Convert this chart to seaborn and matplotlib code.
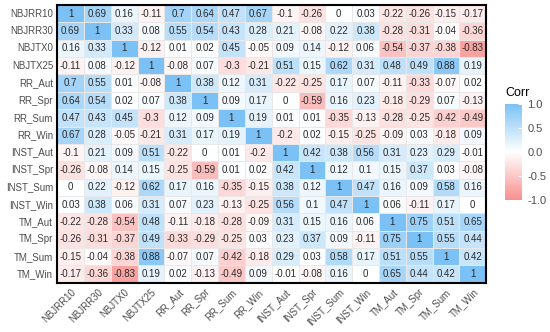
import numpy as np
import pandas as pd
import matplotlib.pyplot as plt
import seaborn as sns
from matplotlib.colors import LinearSegmentedColormap

labels = ["NBJRR10", "NBJRR30", "NBJTX0", "NBJTX25", "RR_Aut", "RR_Spr", "RR_Sum", "RR_Win",
          "INST_Aut", "INST_Spr", "INST_Sum", "INST_Win", "TM_Aut", "TM_Spr", "TM_Sum", "TM_Win"]

NBJRR10 = [1, 0.69, 0.16, -0.11, 0.7, 0.64, 0.47, 0.67, -0.1, -0.26, 0, 0.03, -0.22, -0.26, -0.15, -0.17]
NBJRR30 = [0.69, 1, 0.33, 0.08, 0.55, 0.54, 0.43, 0.28, 0.21, -0.08, 0.22, 0.38, -0.28, -0.31, -0.04, -0.36]
NBJTX0 = [0.16, 0.33, 1, -0.12, 0.01, 0.02, 0.45, -0.05, 0.09, 0.14, -0.12, 0.06, -0.54, -0.37, -0.38, -0.83]
NBJTX25 = [-0.11, 0.08, -0.12, 1, -0.08, 0.07, -0.3, -0.21, 0.51, 0.15, 0.62, 0.31, 0.48, 0.49, 0.88, 0.19]
RR_Aut = [0.7, 0.55, 0.01, -0.08, 1, 0.38, 0.12, 0.31, -0.22, -0.25, 0.17, 0.07, -0.11, -0.33, -0.07, 0.02]
RR_Spr = [0.64, 0.54, 0.02, 0.07, 0.38, 1, 0.09, 0.17, 0, -0.59, 0.16, 0.23, -0.18, -0.29, 0.07, -0.13]
RR_Sum = [0.47, 0.43, 0.45, -0.3, 0.12, 0.09, 1, 0.19, 0.01, 0.01, -0.35, -0.13, -0.28, -0.25, -0.42, -0.49]
RR_Win = [0.67, 0.28, -0.05, -0.21, 0.31, 0.17, 0.19, 1, -0.2, 0.02, -0.15, -0.25, -0.09, 0.03, -0.18, 0.09]
INST_Aut = [-0.1, 0.21, 0.09, 0.51, -0.22, 0, 0.01, -0.2, 1, 0.42, 0.38, 0.56, 0.31, 0.23, 0.29, -0.01]
INST_Spr = [-0.26, -0.08, 0.14, 0.15, -0.25, -0.59, 0.01, 0.02, 0.42, 1, 0.12, 0.1, 0.15, 0.37, 0.03, -0.08]
INST_Sum = [0, 0.22, -0.12, 0.62, 0.17, 0.16, -0.35, -0.15, 0.38, 0.12, 1, 0.47, 0.16, 0.09, 0.58, 0.16]
INST_Win = [0.03, 0.38, 0.06, 0.31, 0.07, 0.23, -0.13, -0.25, 0.56, 0.1, 0.47, 1, 0.06, -0.11, 0.17, 0]
TM_Aut = [-0.22, -0.28, -0.54, 0.48, -0.11, -0.18, -0.28, -0.09, 0.31, 0.15, 0.16, 0.06, 1, 0.75, 0.51, 0.65]
TM_Spr = [-0.26, -0.31, -0.37, 0.49, -0.33, -0.29, -0.25, 0.03, 0.23, 0.37, 0.09, -0.11, 0.75, 1, 0.55, 0.44]
TM_Sum = [-0.15, -0.04, -0.38, 0.88, -0.07, 0.07, -0.42, -0.18, 0.29, 0.03, 0.58, 0.17, 0.51, 0.55, 1, 0.42]
TM_Win = [-0.17, -0.36, -0.83, 0.19, 0.02, -0.13, -0.49, 0.09, -0.01, -0.08, 0.16, 0, 0.65, 0.44, 0.42, 1]

rows = [NBJRR10, NBJRR30, NBJTX0, NBJTX25, RR_Aut, RR_Spr, RR_Sum, RR_Win,
        INST_Aut, INST_Spr, INST_Sum, INST_Win, TM_Aut, TM_Spr, TM_Sum, TM_Win]
corr = pd.DataFrame(rows, index=labels, columns=labels)
annot = corr.map(lambda v: f"{v:g}")

plt.rcParams["font.family"] = ["Liberation Sans", "DejaVu Sans"]

cmap = LinearSegmentedColormap.from_list("corr", ["#F7908F", "#FFFFFF", "#7CC1F5"])

fig = plt.figure(figsize=(5.5, 3.32), dpi=100)
ax = fig.add_axes([0.104, 0.148, 0.780, 0.837])
cax = fig.add_axes([0.918, 0.398, 0.031, 0.289])

sns.heatmap(corr, ax=ax, cbar_ax=cax, cmap=cmap, vmin=-1, vmax=1,
            annot=annot, fmt="", annot_kws={"size": 7, "color": "#2A2A2A"},
            linewidths=0.6, linecolor="#E8E8E8")

ax.tick_params(length=0, labelsize=7, labelcolor="#4D4D4D", pad=3)
ax.set_xticklabels(labels, rotation=45, ha="right", rotation_mode="anchor")
ax.set_yticklabels(labels, rotation=0)
ax.set_xlabel("")
ax.set_ylabel("")
for s in ax.spines.values():
    s.set_visible(True)
    s.set_color("black")
    s.set_linewidth(1.5)

cbar = ax.collections[0].colorbar
cbar.outline.set_visible(False)
cbar.set_ticks([-1, -0.5, 0, 0.5, 1])
cbar.set_ticklabels(["-1.0", "-0.5", "0.0", "0.5", "1.0"])
cax.tick_params(labelsize=8, labelcolor="#4D4D4D", length=3, color="white", direction="in", pad=4)
cax.set_title("Corr", fontsize=9, loc="left", pad=6)

fig.savefig("out.png", dpi=100)
